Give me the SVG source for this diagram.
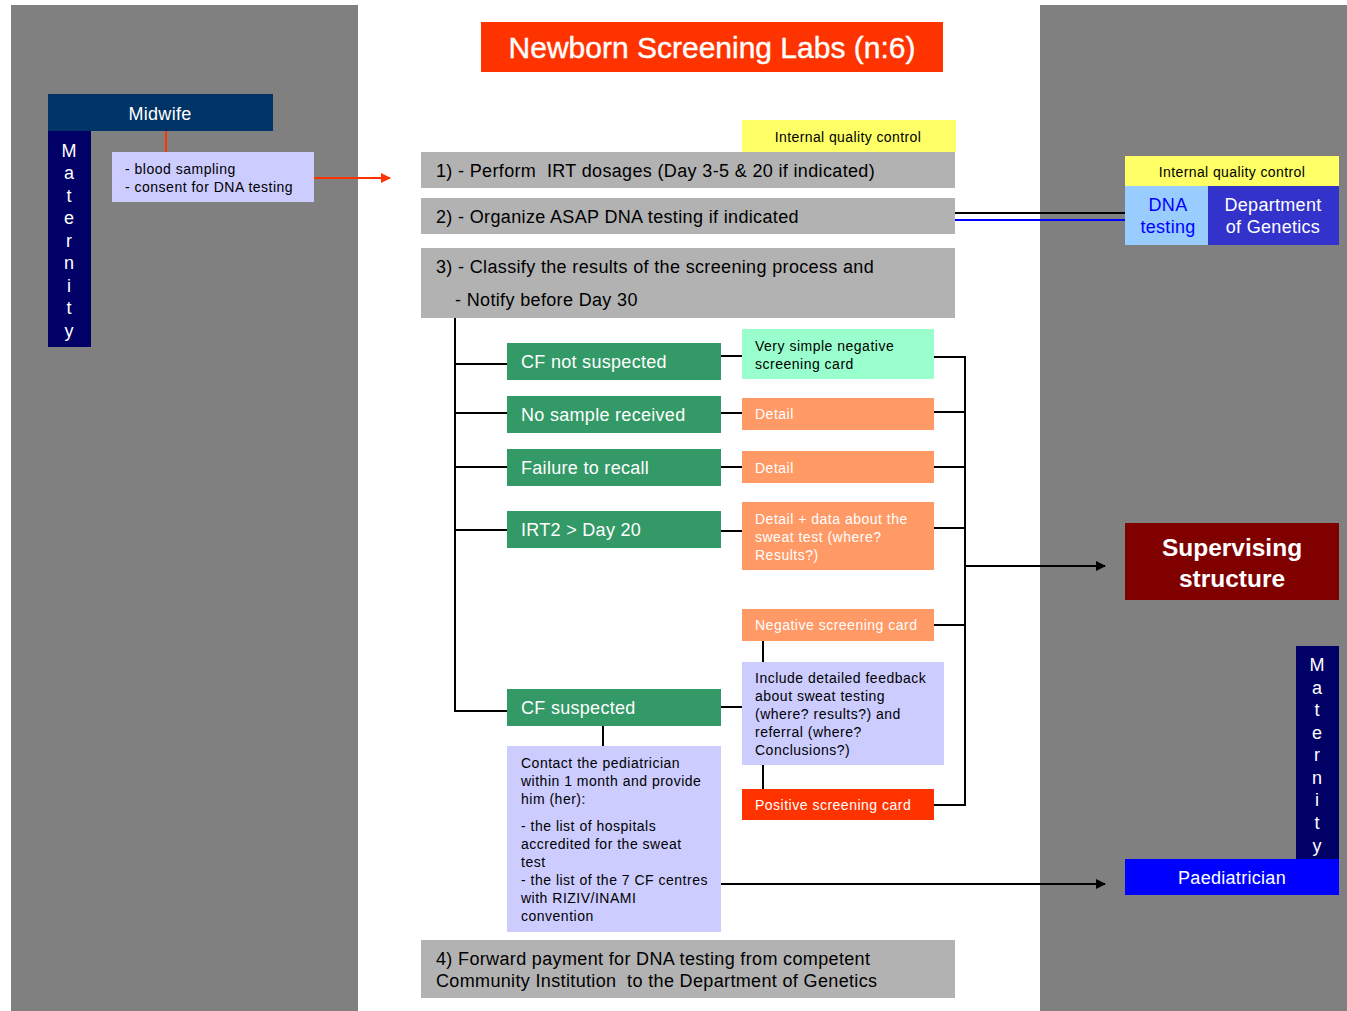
<svg xmlns="http://www.w3.org/2000/svg" width="1347" height="1011" viewBox="0 0 1347 1011">
  <defs>
    <marker id="arrowBlack" markerWidth="10" markerHeight="10" refX="9" refY="5" orient="auto" markerUnits="userSpaceOnUse">
      <path d="M0,0 L10,5 L0,10 Z" fill="#000000"/>
    </marker>
    <marker id="arrowRed" markerWidth="10" markerHeight="10" refX="9" refY="5" orient="auto" markerUnits="userSpaceOnUse">
      <path d="M0,0 L10,5 L0,10 Z" fill="#FF3300"/>
    </marker>
  </defs>
  <style>
    text { font-family: "Liberation Sans", Arial, sans-serif; white-space: pre; }
    .panel { fill: #808080; }
    .step { fill: #B2B2B2; }
    .stepText { font-size: 18px; fill: #000000; letter-spacing: 0.35px; }
    .iqc { fill: #FFFF66; }
    .iqcText { font-size: 14px; fill: #000000; text-anchor: middle; letter-spacing: 0.4px; }
    .green { fill: #339966; }
    .greenText { font-size: 18px; fill: #FFFFFF; letter-spacing: 0.3px; }
    .orange { fill: #FF9966; }
    .orangeText { font-size: 14px; fill: #FFFFFF; letter-spacing: 0.5px; }
    .lilac { fill: #CCCCFF; }
    .smallText { font-size: 14px; fill: #000000; letter-spacing: 0.5px; }
    .mat { fill: #000066; }
    .matText { font-size: 18px; fill: #FFFFFF; text-anchor: middle; }
    .boxText { font-size: 18px; text-anchor: middle; letter-spacing: 0.3px; }
    .conn { stroke: #000000; stroke-width: 2; fill: none; }
  </style>

  <!-- side panels -->
  <rect class="panel" x="11" y="5" width="347" height="1006"/>
  <rect class="panel" x="1040" y="5" width="307" height="1006"/>

  <!-- connectors -->
  <g id="connectors">
    <line x1="166" y1="130" x2="166" y2="152" stroke="#FF3300" stroke-width="2"/>
    <line x1="314" y1="178" x2="390" y2="178" stroke="#FF3300" stroke-width="2" marker-end="url(#arrowRed)"/>
    <line x1="955" y1="213" x2="1125" y2="213" stroke="#000000" stroke-width="2"/>
    <line x1="955" y1="220" x2="1125" y2="220" stroke="#0000FF" stroke-width="2"/>
    <!-- left trunk -->
    <path class="conn" d="M455,318 V711 H507"/>
    <line class="conn" x1="455" y1="364" x2="507" y2="364"/>
    <line class="conn" x1="455" y1="413" x2="507" y2="413"/>
    <line class="conn" x1="455" y1="467" x2="507" y2="467"/>
    <line class="conn" x1="455" y1="530" x2="507" y2="530"/>
    <!-- category to card -->
    <line class="conn" x1="721" y1="356" x2="742" y2="356"/>
    <line class="conn" x1="721" y1="413" x2="742" y2="413"/>
    <line class="conn" x1="721" y1="467" x2="742" y2="467"/>
    <line class="conn" x1="721" y1="531" x2="742" y2="531"/>
    <line class="conn" x1="721" y1="707" x2="742" y2="707"/>
    <line class="conn" x1="603" y1="726" x2="603" y2="746"/>
    <line class="conn" x1="763" y1="641" x2="763" y2="662"/>
    <line class="conn" x1="763" y1="765" x2="763" y2="789"/>
    <!-- right collector -->
    <path class="conn" d="M934,357 H965 V805 H934"/>
    <line class="conn" x1="934" y1="412" x2="965" y2="412"/>
    <line class="conn" x1="934" y1="467" x2="965" y2="467"/>
    <line class="conn" x1="934" y1="528" x2="965" y2="528"/>
    <line class="conn" x1="934" y1="625" x2="965" y2="625"/>
    <line class="conn" x1="965" y1="566" x2="1105" y2="566" marker-end="url(#arrowBlack)"/>
    <line class="conn" x1="721" y1="884" x2="1105" y2="884" marker-end="url(#arrowBlack)"/>
  </g>

  <!-- title -->
  <g id="title">
    <rect x="481" y="22" width="462" height="50" fill="#FF3300"/>
    <text x="712" y="58" font-size="30" fill="#FFFFFF" text-anchor="middle" stroke="#FFFFFF" stroke-width="0.4">Newborn Screening Labs (n:6)</text>
  </g>

  <!-- maternity (left) -->
  <g id="midwife">
    <rect x="48" y="94" width="225" height="37" fill="#003366"/>
    <text class="boxText" x="160" y="120" fill="#FFFFFF">Midwife</text>
  </g>
  <g id="maternity-left">
    <rect class="mat" x="48" y="131" width="43" height="216"/>
    <text class="matText" x="69" y="157">M</text>
    <text class="matText" x="69" y="179">a</text>
    <text class="matText" x="69" y="202">t</text>
    <text class="matText" x="69" y="224">e</text>
    <text class="matText" x="69" y="247">r</text>
    <text class="matText" x="69" y="269">n</text>
    <text class="matText" x="69" y="292">i</text>
    <text class="matText" x="69" y="314">t</text>
    <text class="matText" x="69" y="337">y</text>
  </g>
  <g id="sampling">
    <rect class="lilac" x="112" y="152" width="202" height="50"/>
    <text class="smallText" x="125" y="174">- blood sampling</text>
    <text class="smallText" x="125" y="192">- consent for DNA testing</text>
  </g>

  <!-- lab steps -->
  <g id="iqc-lab">
    <rect class="iqc" x="742" y="120" width="214" height="32"/>
    <text class="iqcText" x="848" y="142">Internal quality control</text>
  </g>
  <g id="step1">
    <rect class="step" x="421" y="152" width="534" height="36"/>
    <text class="stepText" x="436" y="177">1) - Perform  IRT dosages (Day 3-5 &amp; 20 if indicated)</text>
  </g>
  <g id="step2">
    <rect class="step" x="421" y="198" width="534" height="36"/>
    <text class="stepText" x="436" y="223">2) - Organize ASAP DNA testing if indicated</text>
  </g>
  <g id="step3">
    <rect class="step" x="421" y="248" width="534" height="70"/>
    <text class="stepText" x="436" y="273">3) - Classify the results of the screening process and</text>
    <text class="stepText" x="455" y="306">- Notify before Day 30</text>
  </g>

  <!-- genetics -->
  <g id="iqc-genetics">
    <rect class="iqc" x="1125" y="156" width="214" height="30"/>
    <text class="iqcText" x="1232" y="177">Internal quality control</text>
  </g>
  <g id="dna-testing">
    <rect x="1125" y="186" width="83" height="59" fill="#99CCFF"/>
    <text class="boxText" x="1168" y="211" fill="#0000FF">DNA</text>
    <text class="boxText" x="1168" y="233" fill="#0000FF">testing</text>
  </g>
  <g id="genetics">
    <rect x="1208" y="186" width="131" height="59" fill="#3333CC"/>
    <text class="boxText" x="1273" y="211" fill="#FFFFFF">Department</text>
    <text class="boxText" x="1273" y="233" fill="#FFFFFF">of Genetics</text>
  </g>

  <!-- result categories -->
  <g id="cf-not-suspected">
    <rect class="green" x="507" y="343" width="214" height="37"/>
    <text class="greenText" x="521" y="368">CF not suspected</text>
  </g>
  <g id="no-sample">
    <rect class="green" x="507" y="396" width="214" height="37"/>
    <text class="greenText" x="521" y="421">No sample received</text>
  </g>
  <g id="failure-recall">
    <rect class="green" x="507" y="449" width="214" height="37"/>
    <text class="greenText" x="521" y="474">Failure to recall</text>
  </g>
  <g id="irt2">
    <rect class="green" x="507" y="511" width="214" height="37"/>
    <text class="greenText" x="521" y="536">IRT2 &gt; Day 20</text>
  </g>
  <g id="cf-suspected">
    <rect class="green" x="507" y="689" width="214" height="37"/>
    <text class="greenText" x="521" y="714">CF suspected</text>
  </g>

  <!-- cards -->
  <g id="simple-negative">
    <rect x="742" y="329" width="192" height="50" fill="#99FFCC"/>
    <text class="smallText" x="755" y="351">Very simple negative</text>
    <text class="smallText" x="755" y="369">screening card</text>
  </g>
  <g id="detail-1">
    <rect class="orange" x="742" y="398" width="192" height="32"/>
    <text class="orangeText" x="755" y="419">Detail</text>
  </g>
  <g id="detail-2">
    <rect class="orange" x="742" y="451" width="192" height="32"/>
    <text class="orangeText" x="755" y="473">Detail</text>
  </g>
  <g id="detail-sweat">
    <rect class="orange" x="742" y="502" width="192" height="68"/>
    <text class="orangeText" x="755" y="524">Detail + data about the</text>
    <text class="orangeText" x="755" y="542">sweat test (where?</text>
    <text class="orangeText" x="755" y="560">Results?)</text>
  </g>
  <g id="negative-card">
    <rect class="orange" x="742" y="609" width="192" height="32"/>
    <text class="orangeText" x="755" y="630">Negative screening card</text>
  </g>
  <g id="feedback">
    <rect class="lilac" x="742" y="662" width="202" height="103"/>
    <text class="smallText" x="755" y="683">Include detailed feedback</text>
    <text class="smallText" x="755" y="701">about sweat testing</text>
    <text class="smallText" x="755" y="719">(where? results?) and</text>
    <text class="smallText" x="755" y="737">referral (where?</text>
    <text class="smallText" x="755" y="755">Conclusions?)</text>
  </g>
  <g id="positive-card">
    <rect x="742" y="789" width="192" height="31" fill="#FF3300"/>
    <text class="orangeText" x="755" y="810">Positive screening card</text>
  </g>
  <g id="contact">
    <rect class="lilac" x="507" y="746" width="214" height="186"/>
    <text class="smallText" x="521" y="768">Contact the pediatrician</text>
    <text class="smallText" x="521" y="786">within 1 month and provide</text>
    <text class="smallText" x="521" y="804">him (her):</text>
    <text class="smallText" x="521" y="831">- the list of hospitals</text>
    <text class="smallText" x="521" y="849">accredited for the sweat</text>
    <text class="smallText" x="521" y="867">test</text>
    <text class="smallText" x="521" y="885">- the list of the 7 CF centres</text>
    <text class="smallText" x="521" y="903">with RIZIV/INAMI</text>
    <text class="smallText" x="521" y="921">convention</text>
  </g>
  <g id="step4">
    <rect class="step" x="421" y="940" width="534" height="58"/>
    <text class="stepText" x="436" y="965">4) Forward payment for DNA testing from competent</text>
    <text class="stepText" x="436" y="987">Community Institution  to the Department of Genetics</text>
  </g>

  <!-- right side recipients -->
  <g id="supervising">
    <rect x="1125" y="523" width="214" height="77" fill="#800000"/>
    <text x="1232" y="556" font-size="24.5" font-weight="bold" fill="#FFFFFF" text-anchor="middle">Supervising</text>
    <text x="1232" y="587" font-size="24.5" font-weight="bold" fill="#FFFFFF" text-anchor="middle">structure</text>
  </g>
  <g id="maternity-right">
    <rect class="mat" x="1296" y="646" width="43" height="213"/>
    <text class="matText" x="1317" y="671">M</text>
    <text class="matText" x="1317" y="694">a</text>
    <text class="matText" x="1317" y="716">t</text>
    <text class="matText" x="1317" y="739">e</text>
    <text class="matText" x="1317" y="761">r</text>
    <text class="matText" x="1317" y="784">n</text>
    <text class="matText" x="1317" y="806">i</text>
    <text class="matText" x="1317" y="829">t</text>
    <text class="matText" x="1317" y="852">y</text>
  </g>
  <g id="paediatrician">
    <rect x="1125" y="859" width="214" height="36" fill="#0000FF"/>
    <text class="boxText" x="1232" y="884" fill="#FFFFFF">Paediatrician</text>
  </g>
</svg>
